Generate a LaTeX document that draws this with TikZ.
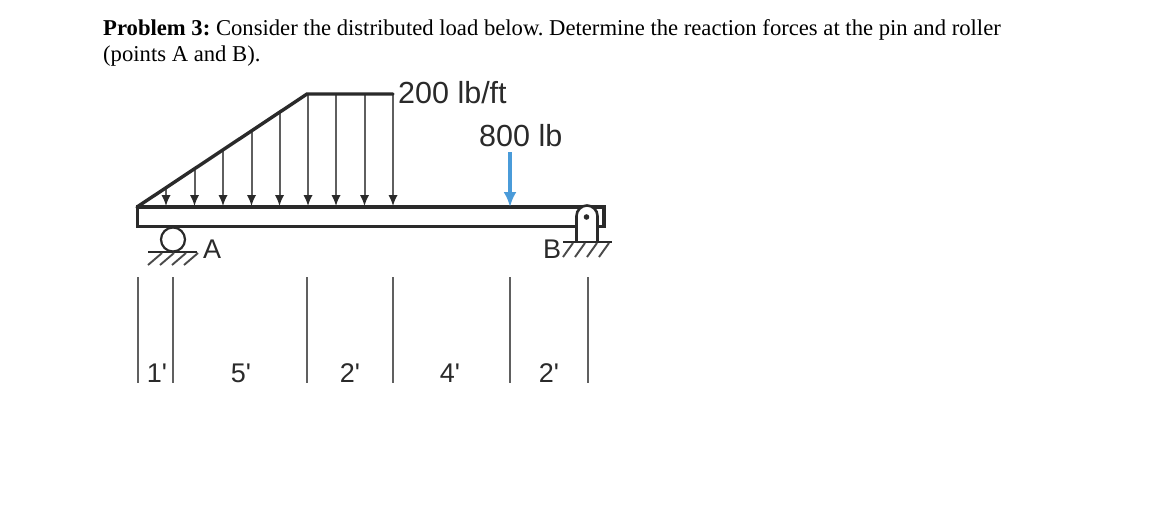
\documentclass[tikz,border=0pt]{standalone}
\usepackage{fontspec}
\setmainfont{Liberation Serif}
\newfontfamily\labelfont{Liberation Sans}
\usetikzlibrary{arrows.meta}
\definecolor{inkc}{HTML}{2A2A2A}
\definecolor{bluec}{HTML}{4A9BD9}
\definecolor{dimc}{HTML}{606060}
\tikzset{
  beamline/.style={draw=inkc,line width=3.6pt,line join=miter},
  loadedge/.style={draw=inkc,line width=3.4pt},
  loadarrow/.style={draw=inkc!75,line width=2pt,-{Latex[length=11pt,width=9.5pt,inkc]}},
  supportline/.style={draw=inkc,line width=2.6pt},
  hatchline/.style={draw=inkc!85,line width=1.9pt},
  dimline/.style={draw=dimc,line width=2.1pt},
  lab/.style={font=\labelfont\fontsize{27}{30}\selectfont,text=inkc,inner sep=0pt},
  para/.style={font=\frenchspacing\fontsize{22.65}{26}\selectfont,text=black,inner sep=0pt,anchor=base west}
}
\begin{document}
\begin{tikzpicture}[x=1pt,y=-1pt]
\useasboundingbox (0,0) rectangle (1170,515);
\fill[white] (0,0) rectangle (1170,515);
% text
\node[para] (t1) at (103,35) {\textbf{Problem 3:} Consider the distributed load below. Determine the reaction forces at the pin and roller};
\node[para] (t2) at (103,61) {(points A and B).};
% load
\coordinate (s) at (137,207);
\coordinate (p) at (307,94);
\coordinate (q) at (393,94);
\foreach \x in {166,194.5,223,251.5,279.5,308,336,364.5,393}{
  \pgfmathsetmacro{\yt}{\x<307 ? 207-(\x-137)*0.6647 : 94}
  \coordinate (top) at (\x,\yt);
  \coordinate (bot) at (\x,206);
  \draw[loadarrow] (top) -- (bot);
}
\draw[loadedge,line cap=round] (s) -- (p) -- (q);
% beam
\draw[beamline,fill=white] (576,226.5) -- (137.5,226.5) -- (137.5,207) -- (604,207) -- (604,226.5) -- (598,226.5);
% blue force
\coordinate (f1) at (510,152);
\coordinate (f2) at (510,207);
\draw[draw=bluec,line width=3.6pt,-{Latex[length=15pt,width=13pt,bluec]}] (f1) -- (f2);
% roller A
\node[draw=inkc,line width=2.2pt,circle,minimum size=24pt,inner sep=0pt,fill=white] (roller) at (173,239.5) {};
\coordinate (ga) at (148,252);
\coordinate (gb) at (197,252);
\draw[supportline] (ga) -- (gb);
\foreach \x in {160,172,184,196}{
  \draw[hatchline] (\x+2,253) -- (\x-12,265);
}
\node[lab,anchor=base west] (A) at (203,258) {A};
% pin B
\draw[supportline,fill=white] (576.5,242) -- (576.5,216) arc[start angle=180,end angle=360,radius=10.5] -- (597.5,242);
\fill[inkc] (586.5,217) circle (2.8pt);
\coordinate (gc) at (563,242);
\coordinate (gd) at (612,242);
\draw[supportline] (gc) -- (gd);
\foreach \x in {578,590,602,614}{
  \draw[hatchline] (\x-5,243) -- (\x-15,257);
}
\node[lab,anchor=base west] (B) at (543,258) {B};
% labels
\node[lab,font=\labelfont\fontsize{30.5}{32}\selectfont,anchor=base west] (w) at (398,103) {200 lb/ft};
\node[lab,font=\labelfont\fontsize{30.5}{32}\selectfont,anchor=base west] (P) at (479,146) {800 lb};
% dimension ticks
\foreach \x/\n in {138/a,173/b,307/c,393/d,510/e,588/f}{
  \coordinate (\n1) at (\x,277);
  \coordinate (\n2) at (\x,383);
  \draw[dimline] (\n1) -- (\n2);
}
\node[lab] (d1) at (157,382) [anchor=base] {1'};
\node[lab] (d2) at (241,382) [anchor=base] {5'};
\node[lab] (d3) at (350,382) [anchor=base] {2'};
\node[lab] (d4) at (450,382) [anchor=base] {4'};
\node[lab] (d5) at (549,382) [anchor=base] {2'};
\end{tikzpicture}
\end{document}
